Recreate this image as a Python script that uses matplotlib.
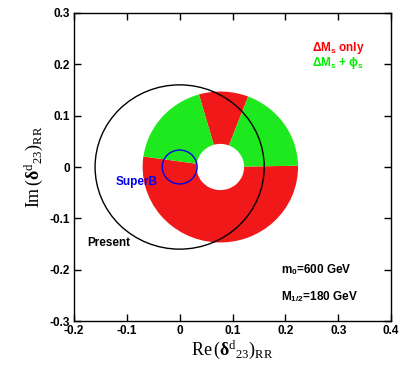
import matplotlib
matplotlib.use('Agg')
from matplotlib import pyplot as plt
from matplotlib.patches import Wedge, Circle

# annulus of allowed points (centre, inner/outer radius)
ring_center = (0.077, 0.0)
ring_radii = [0.045, 0.147]
# angular sectors in degrees
red_sectors = [(69, 106), (172, 361)]
green_sectors = [(1, 69), (106, 172)]

# bounds circles
present_center = (0.0, 0.0)
present_radius = 0.16
superb_center = (0.0, 0.0)
superb_radius = 0.033

xticks = [-0.2, -0.1, 0, 0.1, 0.2, 0.3, 0.4]
yticks = [-0.3, -0.2, -0.1, 0, 0.1, 0.2, 0.3]

plt.rcParams['mathtext.fontset'] = 'custom'
plt.rcParams['mathtext.rm'] = 'Liberation Serif'
plt.rcParams['mathtext.it'] = 'Liberation Serif:italic'
plt.rcParams['mathtext.bf'] = 'Liberation Serif:bold'
plt.rcParams['mathtext.sf'] = 'Liberation Sans:bold'

fig = plt.figure(figsize=(4.04, 3.67), dpi=100)
ax = fig.add_axes([0.183, 0.1253, 0.785, 0.8393])

width = ring_radii[1] - ring_radii[0]
for a1, a2 in red_sectors:
    ax.add_patch(Wedge(ring_center, ring_radii[1], a1, a2, width=width,
                       facecolor='#f01818', edgecolor='none'))
for a1, a2 in green_sectors:
    ax.add_patch(Wedge(ring_center, ring_radii[1], a1, a2, width=width,
                       facecolor='#1ee81e', edgecolor='none'))

ax.add_patch(Circle(present_center, present_radius, fill=False, edgecolor='black', lw=1.0))
ax.add_patch(Circle(superb_center, superb_radius, fill=False, edgecolor='#0000ee', lw=1.0))

font = dict(fontsize=8.5, fontweight='bold', va='center', ha='left', family='Liberation Sans')
ax.text(-0.175, -0.148, 'Present', color='black', **font)
ax.text(-0.121, -0.03, 'SuperB', color='#0000ee', **font)

ax.text(0.251, 0.232, r'$\mathsf{\Delta M_s}$ only', color='#ff0000', **font)
ax.text(0.251, 0.2025, r'$\mathsf{\Delta M_s}$ + $\mathsf{\phi_s}$', color='#00ee00', **font)

ax.text(0.192, -0.199, r'm$_\mathsf{0}$=600 GeV', color='black', **font)
ax.text(0.192, -0.252, r'M$_\mathsf{1/2}$=180 GeV', color='black', **font)

ax.set_xlim(-0.2, 0.4)
ax.set_ylim(-0.3, 0.3)
ax.set_xticks(xticks)
ax.set_yticks(yticks)
ax.set_xticklabels(['%g' % t for t in xticks], fontsize=8.5, fontweight='bold', family='Liberation Sans')
ax.set_yticklabels(['%g' % t for t in yticks], fontsize=8.5, fontweight='bold', family='Liberation Sans')
ax.tick_params(direction='in', top=True, right=True, length=5, width=1, pad=3)
for s in ax.spines.values():
    s.set_linewidth(1.0)

ax.set_xlabel(r'$\mathrm{Re}\,(\mathbf{\delta}^{\mathrm{d}}{}_{23})_{\mathrm{RR}}$', fontsize=13, labelpad=1)
ax.set_ylabel(r'$\mathrm{Im}\,(\mathbf{\delta}^{\mathrm{d}}{}_{23})_{\mathrm{RR}}$', fontsize=13, labelpad=3)

fig.savefig('out.png', dpi=100)
